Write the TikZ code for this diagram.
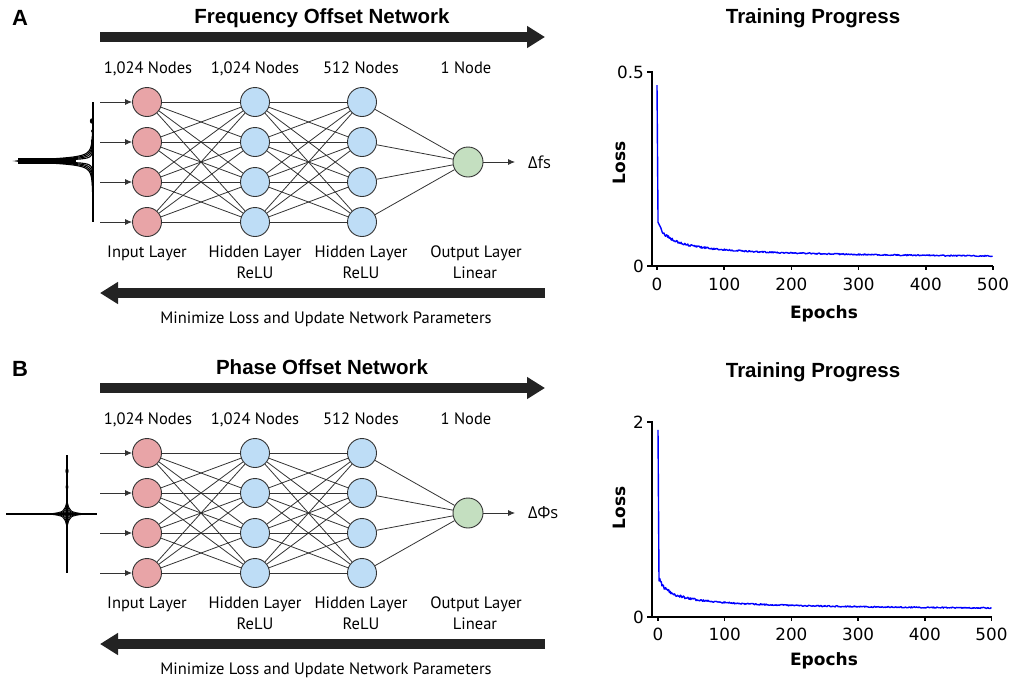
\documentclass[tikz,border=0pt]{standalone}
\usepackage{fontspec}
\setmainfont{PT Sans}
\newfontfamily\titlefont{Liberation Sans}
\newfontfamily\chartfont{DejaVu Sans}
\newfontfamily\greekfont{Open Sans}
\usetikzlibrary{arrows.meta}
\definecolor{inpink}{HTML}{E8A4A7}
\definecolor{hidblue}{HTML}{BEDDF6}
\definecolor{outgreen}{HTML}{C4DFC0}
\definecolor{barcol}{HTML}{232323}
\definecolor{edgecol}{HTML}{333333}
\tikzset{
  neuron/.style={circle, draw=edgecol, line width=0.9pt, minimum size=29pt, inner sep=0pt},
  inp/.style={neuron, fill=inpink},
  hid/.style={neuron, fill=hidblue},
  outn/.style={neuron, fill=outgreen, minimum size=30pt},
  conn/.style={draw=edgecol, line width=0.8pt},
  inarrow/.style={conn, -{Latex[length=7pt,width=6pt]}},
  bigarrow/.style={draw=barcol, line width=10pt, -{Triangle[length=18pt,width=21pt]}},
  lbl/.style={font=\fontsize{16.5}{18}\selectfont, inner sep=0pt, anchor=base},
  nettitle/.style={font=\titlefont\bfseries\fontsize{20.5}{22}\selectfont, inner sep=0pt, anchor=base},
  paneltag/.style={font=\titlefont\bfseries\fontsize{22}{24}\selectfont, inner sep=0pt, anchor=base},
  ticklbl/.style={font=\chartfont\fontsize{16.8}{18}\selectfont, inner sep=0pt},
  axlbl/.style={font=\chartfont\bfseries\fontsize{17}{19}\selectfont, inner sep=0pt},
  axisline/.style={draw=black, line width=1.5pt},
  lossline/.style={draw=blue, line width=1.4pt, line join=round},
  spec/.style={draw=black, line width=1.3pt},
}
\begin{document}
\begin{tikzpicture}[x=1pt,y=-1pt]
\useasboundingbox (0,0) rectangle (1014,681);

\foreach \p/\dy/\tit/\sym in {A/0/Frequency Offset Network/{\greekfont Δfs}, B/351/Phase Offset Network/{\greekfont ΔΦs}} {
  \node[paneltag] (\p tag) at (20,{25+\dy}) {\p};
  \node[nettitle] (\p title) at (322,{23+\dy}) {\tit};
  \coordinate (\p fs) at (100,{37+\dy});
  \coordinate (\p fe) at (545,{37+\dy});
  \draw[bigarrow] (\p fs) -- (\p fe);
  \coordinate (\p bs) at (545,{293+\dy});
  \coordinate (\p be) at (100,{293+\dy});
  \draw[bigarrow] (\p bs) -- (\p be);
  \node[lbl] (\p min) at (326,{323+\dy}) {Minimize Loss and Update Network Parameters};
  % layer counts
  \node[lbl] (\p c1) at (148,{73+\dy}) {1,024 Nodes};
  \node[lbl] (\p c2) at (255,{73+\dy}) {1,024 Nodes};
  \node[lbl] (\p c3) at (361,{73+\dy}) {512 Nodes};
  \node[lbl] (\p c4) at (466,{73+\dy}) {1 Node};
  % layer names
  \node[lbl] (\p n1) at (147,{257+\dy}) {Input Layer};
  \node[lbl] (\p n2) at (255,{257+\dy}) {Hidden Layer};
  \node[lbl] (\p r2) at (255,{278+\dy}) {ReLU};
  \node[lbl] (\p n3) at (361,{257+\dy}) {Hidden Layer};
  \node[lbl] (\p r3) at (361,{278+\dy}) {ReLU};
  \node[lbl] (\p n4) at (476,{257+\dy}) {Output Layer};
  \node[lbl] (\p r4) at (475,{278+\dy}) {Linear};
  % neurons
  \foreach \i in {1,...,4} {
    \node[inp] (\p i\i) at (147,{62+40*\i+\dy}) {};
    \node[hid] (\p h\i) at (255,{62+40*\i+\dy}) {};
    \node[hid] (\p k\i) at (362,{62+40*\i+\dy}) {};
    \coordinate (\p s\i) at (100,{62+40*\i+\dy});
  }
  \node[outn] (\p o) at (468,{162+\dy}) {};
  % connections
  \foreach \i in {1,...,4} {
    \draw[inarrow] (\p s\i) -- (\p i\i);
    \draw[conn] (\p k\i) -- (\p o);
    \foreach \j in {1,...,4} {
      \draw[conn] (\p i\i) -- (\p h\j);
      \draw[conn] (\p h\i) -- (\p k\j);
    }
  }
  \coordinate (\p oe) at (515,{162+\dy});
  \draw[inarrow] (\p o) -- (\p oe);
  \node[lbl, anchor=west, font=\fontsize{16.5}{18}\selectfont] (\p sym) at (528,{162+\dy}) {\sym};
}

% ---------- spectrum A ----------
\draw[spec] (93,102) -- (93,222);
\foreach \g in {0.9,1.4,1.9,2.4} {
  \draw[spec, line width=1.1pt] plot[domain=-50:50, samples=201] ({93-75*\g*\g/(\x*\x+\g*\g)}, {161+\x});
}
\draw[spec, line width=5.5pt] (18,161) -- (76,161);
\fill (91.5,121) ellipse (1.6pt and 2.6pt);
\fill (92,131) ellipse (1pt and 1.6pt);
\fill (91.8,141) ellipse (1pt and 1.8pt);

% ---------- spectrum B ----------
\draw[spec, line width=1.4pt] (6,514) -- (97,514);
\draw[spec, line width=1.4pt] (67,455) -- (67,573);
\draw[spec, line width=2.2pt] (67,466) -- (67,506);
\foreach \a/\b in {18/13, 14/11, 10/8, 6/5} {
  \draw[spec, line width=0.9pt] (67-\a,514) .. controls (67-0.15*\a,514-0.15*\b) .. (67,514-\b);
  \draw[spec, line width=0.9pt] (67+\a,514) .. controls (67+0.15*\a,514-0.15*\b) .. (67,514-\b);
  \draw[spec, line width=0.9pt] (67-\a,514) .. controls (67-0.15*\a,514+0.15*\b) .. (67,514+\b);
  \draw[spec, line width=0.9pt] (67+\a,514) .. controls (67+0.15*\a,514+0.15*\b) .. (67,514+\b);
}
\fill (67,471) ellipse (1.6pt and 3pt);
\fill (67,487) ellipse (1.4pt and 2.4pt);

% ---------- chart A ----------
\node[nettitle] (cAt) at (813,23) {Training Progress};
\coordinate (cAo) at (652,266);
\coordinate (cAy) at (652,72);
\coordinate (cAyt) at (647,72);
\coordinate (cAxl) at (647,266);
\coordinate (cAx) at (993,266);
\draw[axisline] (cAyt) -- (cAy) -- (cAo);
\draw[axisline] (cAxl) -- (cAx);
\foreach \k/\t in {0/0,1/100,2/200,3/300,4/400,5/500} {
  \draw[axisline] ({657+67.2*\k},266) -- ++(0,4);
  \node[ticklbl, anchor=base] at ({657+67.2*\k},290) {\t};
}
\node[ticklbl, anchor=east] (cAy1) at (644,72.5) {0.5};
\node[ticklbl, anchor=east] (cAy0) at (644,266) {0};
\node[axlbl, anchor=base] (cAxlab) at (824,318) {Epochs};
\node[axlbl, rotate=90] (cAylab) at (619,163) {Loss};
\pgfmathsetseed{11}
\draw[lossline] (657,{266-388*0.466}) -- (658,{266-388*0.125}) --
  plot[domain=1.5:500, samples=450] ({657+0.671*\x},{266-388*(0.012+0.11/sqrt(1+\x/8))+(0.6+1.6*exp(-\x/40))*rand});

% ---------- chart B ----------
\node[nettitle] (cBt) at (813,377) {Training Progress};
\coordinate (cBo) at (652,617);
\coordinate (cBy) at (652,422);
\coordinate (cByt) at (647,422);
\coordinate (cBxl) at (647,617);
\coordinate (cBx) at (992,617);
\draw[axisline] (cByt) -- (cBy) -- (cBo);
\draw[axisline] (cBxl) -- (cBx);
\foreach \k/\t in {0/0,1/100,2/200,3/300,4/400,5/500} {
  \draw[axisline] ({658+66.7*\k},617) -- ++(0,4);
  \node[ticklbl, anchor=base] at ({658+66.7*\k},640) {\t};
}
\node[ticklbl, anchor=east] (cBy1) at (644,422) {2};
\node[ticklbl, anchor=east] (cBy0) at (644,617) {0};
\node[axlbl, anchor=base] (cBxlab) at (824,665) {Epochs};
\node[axlbl, rotate=90] (cBylab) at (619,508) {Loss};
\pgfmathsetseed{5}
\draw[lossline] (658,{617-97.5*1.92}) -- (659,{617-97.5*0.37}) --
  plot[domain=1.5:500, samples=450] ({658+0.667*\x},{617-97.5*(0.045+0.38/sqrt(1+\x/8))+(0.6+1.6*exp(-\x/40))*rand});
\end{tikzpicture}
\end{document}
